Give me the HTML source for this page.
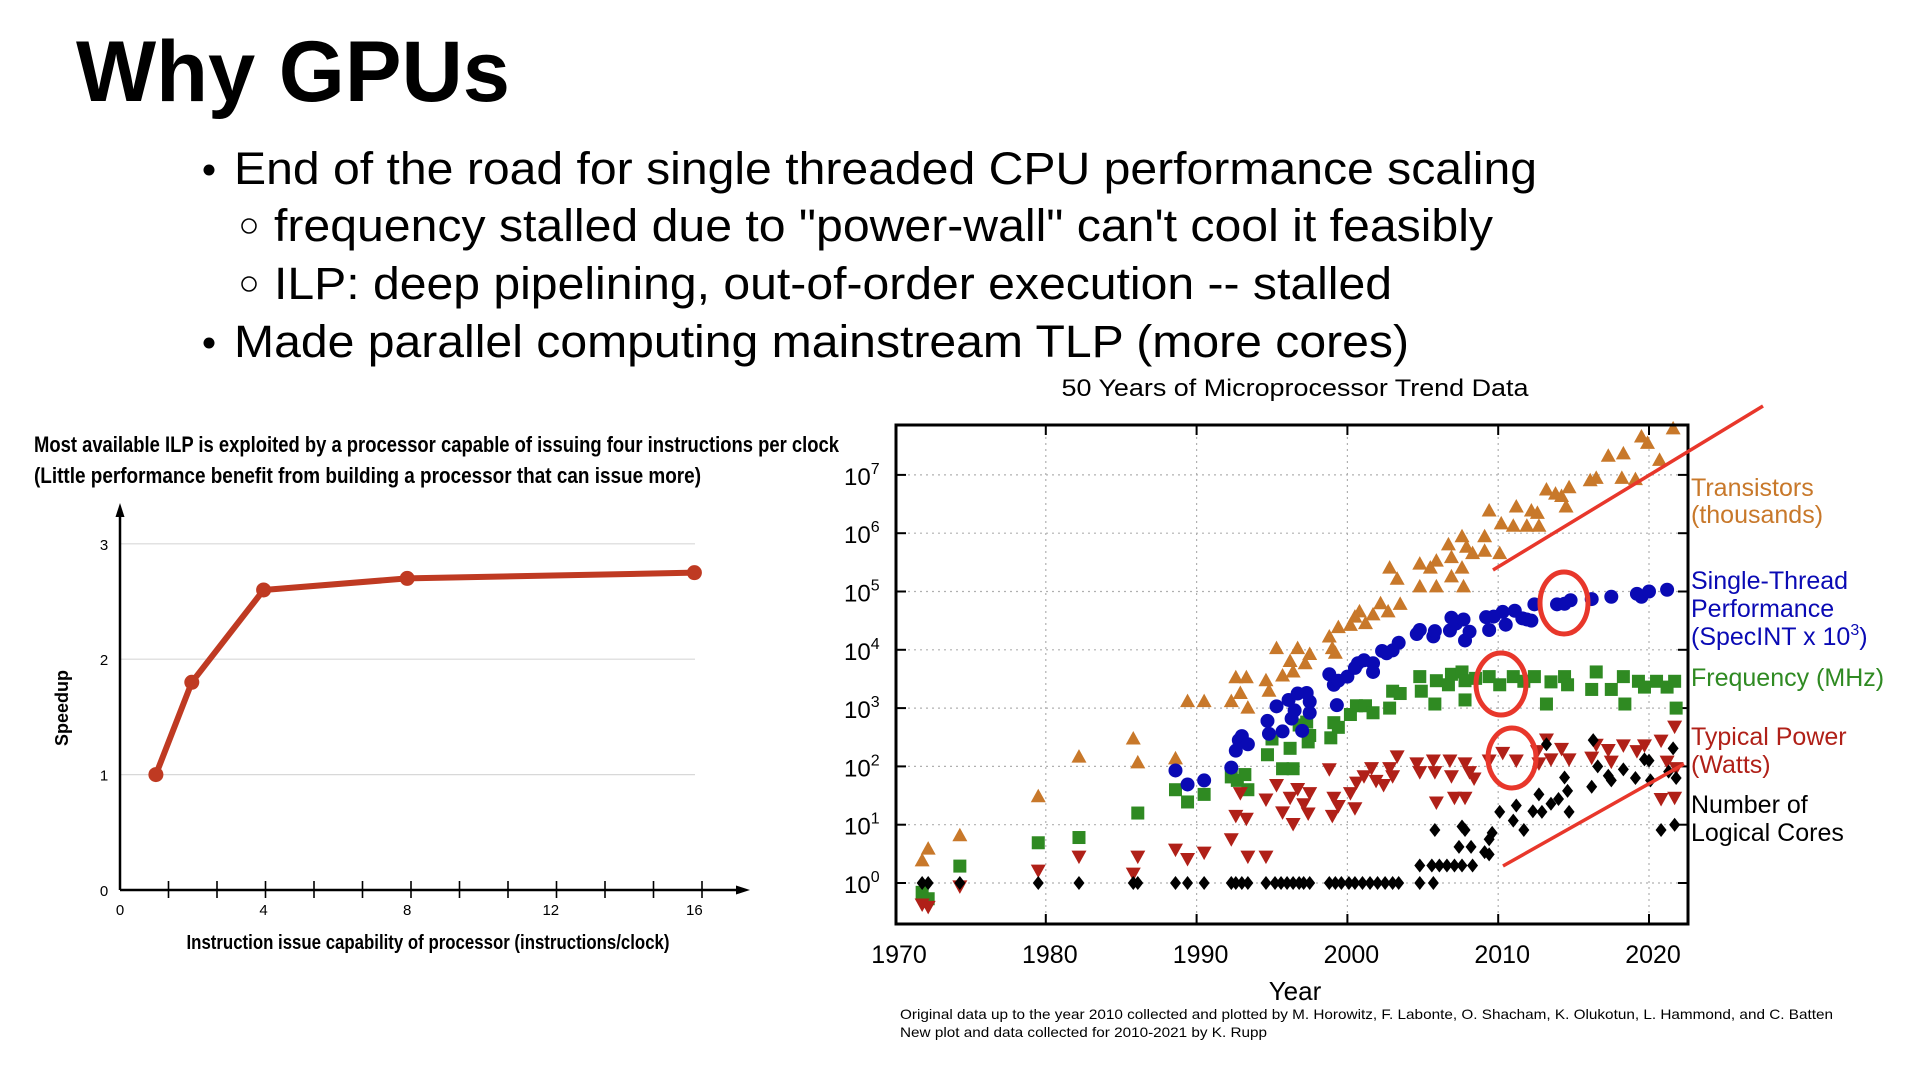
<!DOCTYPE html>
<html><head><meta charset="utf-8"><title>Why GPUs</title>
<style>
html,body{margin:0;padding:0;background:#fff;}
svg{display:block;font-family:"Liberation Sans",Arial,sans-serif;}
</style></head>
<body>
<svg id="page" width="1920" height="1081" viewBox="0 0 1920 1081">
  <text x="76" y="101" font-size="86" font-weight="bold" textLength="434" lengthAdjust="spacingAndGlyphs">Why GPUs</text>
  <g font-size="45">
    <circle cx="209" cy="170" r="5.5" fill="#000"/>
    <text x="234" y="184" textLength="1303" lengthAdjust="spacingAndGlyphs">End of the road for single threaded CPU performance scaling</text>
    <circle cx="249" cy="226" r="7" fill="none" stroke="#000" stroke-width="1.5"/>
    <text x="274" y="241" textLength="1219" lengthAdjust="spacingAndGlyphs">frequency stalled due to "power-wall" can't cool it feasibly</text>
    <circle cx="249" cy="284" r="7" fill="none" stroke="#000" stroke-width="1.5"/>
    <text x="274" y="299" textLength="1118" lengthAdjust="spacingAndGlyphs">ILP: deep pipelining, out-of-order execution -- stalled</text>
    <circle cx="209" cy="343" r="5.5" fill="#000"/>
    <text x="234" y="357" textLength="1175" lengthAdjust="spacingAndGlyphs">Made parallel computing mainstream TLP (more cores)</text>
  </g>

  <!-- LEFT CHART -->
  <g id="ilp">
    <text x="34" y="452" font-size="22" font-weight="bold" textLength="805" lengthAdjust="spacingAndGlyphs">Most available ILP is exploited by a processor capable of issuing four instructions per clock</text>
    <text x="34" y="483" font-size="22" font-weight="bold" textLength="667" lengthAdjust="spacingAndGlyphs">(Little performance benefit from building a processor that can issue more)</text>
    <g id="ilpGrid"></g>
    <line x1="120" y1="890" x2="120" y2="512" stroke="#000" stroke-width="2.5"/>
    <polygon points="120,503 115.5,517 124.5,517" fill="#000"/>
    <line x1="120" y1="890" x2="740" y2="890" stroke="#000" stroke-width="2.5"/>
    <polygon points="750,890 736,885.5 736,894.5" fill="#000"/>
    <text transform="translate(68,708) rotate(-90)" text-anchor="middle" font-size="18" font-weight="bold">Speedup</text>
    <text x="428" y="949" text-anchor="middle" font-size="20" font-weight="bold" textLength="483" lengthAdjust="spacingAndGlyphs">Instruction issue capability of processor (instructions/clock)</text>
    <g id="ilpMarks"></g>
  </g>

  <!-- RIGHT CHART -->
  <g id="trend">
    <text x="1295" y="396" text-anchor="middle" font-size="24" textLength="467" lengthAdjust="spacingAndGlyphs">50 Years of Microprocessor Trend Data</text>
    <g id="trGrid"></g>
    <g id="trMarks"></g>
    <rect x="896" y="425" width="792" height="499" fill="none" stroke="#000" stroke-width="3"/>
    <text x="1295" y="1000" text-anchor="middle" font-size="26">Year</text>
    <g font-size="25">
      <text x="1691" y="496" fill="#c8782a">Transistors</text>
      <text x="1691" y="523" fill="#c8782a">(thousands)</text>
      <text x="1691" y="589" fill="#0a0ab4">Single-Thread</text>
      <text x="1691" y="617" fill="#0a0ab4">Performance</text>
      <text x="1691" y="645" fill="#0a0ab4">(SpecINT x 10<tspan dy="-10" font-size="16">3</tspan><tspan dy="10">)</tspan></text>
      <text x="1691" y="686" fill="#2f8a22">Frequency (MHz)</text>
      <text x="1691" y="745" fill="#b02018">Typical Power</text>
      <text x="1691" y="773" fill="#b02018">(Watts)</text>
      <text x="1691" y="813" fill="#000">Number of</text>
      <text x="1691" y="841" fill="#000">Logical Cores</text>
    </g>
    <text x="900" y="1019" font-size="14" textLength="933" lengthAdjust="spacingAndGlyphs">Original data up to the year 2010 collected and plotted by M. Horowitz, F. Labonte, O. Shacham, K. Olukotun, L. Hammond, and C. Batten</text>
    <text x="900" y="1037" font-size="14" textLength="367" lengthAdjust="spacingAndGlyphs">New plot and data collected for 2010-2021 by K. Rupp</text>
    <g id="annot"></g>
  </g>
</svg>
<script>
var NS = "http://www.w3.org/2000/svg";
// ---- ILP chart data ----
var ilpIssue = [1, 2, 4, 8, 16];
var ilpSpeedup = [1, 1.8, 2.6, 2.7, 2.75];
var ilpXTicks = [0, 4, 8, 12, 16];
var ilpYTicks = [0, 1, 2, 3];

// ---- Trend chart data: [year, log10(value)] ----
var transYears = [1971.8,1972.2,1974.3,1979.5,1982.2,1985.8,1986.1,1988.6,1989.4,1990.5,1992.3,1992.6,1993.3,1992.9,1993.4,1994.6,1994.8,1995.3,1995.7,1996.2,1996.4,1996.7,1997.2,1997.5,1998.8,1999.0,1999.2,1999.4,2000.2,2000.5,2000.8,2001.2,2001.7,2002.2,2002.7,2002.8,2003.3,2003.5,2004.8,2004.8,2005.5,2005.9,2005.9,2006.7,2006.9,2006.9,2007.6,2007.6,2007.7,2007.9,2008.3,2009.1,2009.1,2009.4,2010.1,2010.2,2011.0,2011.2,2011.9,2012.2,2012.6,2012.7,2013.2,2013.8,2014.2,2014.5,2014.7,2016.1,2016.5,2017.3,2018.2,2018.3,2019.1,2019.5,2019.9,2020.7,2021.6];
var transLog = [0.38,0.58,0.81,1.48,2.16,2.47,2.06,2.13,3.11,3.11,3.11,3.52,3.52,3.25,3.0,3.47,3.29,4.02,3.55,3.8,3.62,4.02,3.76,3.92,4.22,4.02,3.94,4.38,4.42,4.56,4.65,4.45,4.6,4.79,4.65,5.4,5.21,4.78,5.47,5.08,5.4,5.08,5.52,5.8,5.25,5.58,5.94,5.4,5.08,5.76,5.65,5.94,5.69,6.38,5.65,6.16,6.12,6.45,6.12,6.38,6.34,6.12,6.74,6.67,6.63,6.45,6.78,6.9,6.94,7.32,6.94,7.36,6.92,7.65,7.54,7.25,7.79];
var stYears = [1988.6,1989.4,1990.5,1992.3,1992.6,1992.8,1993.0,1993.4,1994.7,1994.8,1995.3,1995.7,1996.1,1996.3,1996.5,1996.7,1997.0,1997.3,1997.5,1997.5,1998.8,1999.1,1999.3,1999.4,2000.0,2000.5,2000.7,2001.1,2001.7,2001.7,2002.3,2002.6,2003.0,2003.4,2004.6,2004.8,2005.7,2005.8,2006.8,2006.9,2007.2,2007.7,2007.8,2008.1,2009.2,2009.4,2009.7,2010.3,2010.5,2011.1,2011.6,2011.9,2012.2,2012.4,2013.9,2014.4,2014.8,2016.2,2017.5,2019.2,2019.5,2020.0,2021.2];
var stLog = [1.93,1.69,1.76,1.98,2.27,2.45,2.52,2.38,2.78,2.56,3.03,2.6,3.14,2.82,2.96,3.25,2.61,3.26,2.92,3.11,3.58,3.4,3.05,3.47,3.54,3.69,3.77,3.82,3.77,3.62,3.98,3.94,3.99,4.12,4.27,4.34,4.23,4.32,4.33,4.55,4.45,4.52,4.16,4.31,4.56,4.34,4.57,4.65,4.43,4.67,4.54,4.52,4.5,4.78,4.78,4.79,4.85,4.87,4.91,4.96,4.91,5.0,5.03];
var freqYears = [1971.8,1972.2,1974.3,1979.5,1982.2,1986.1,1988.6,1989.4,1990.5,1992.3,1992.7,1993.2,1993.4,1994.7,1995.0,1995.7,1996.2,1996.4,1996.8,1997.3,1997.4,1997.5,1998.9,1999.1,1999.4,2000.2,2000.6,2001.2,2001.7,2002.8,2003.0,2003.5,2004.8,2004.9,2005.8,2005.9,2006.7,2006.9,2007.6,2007.8,2007.8,2008.5,2009.4,2010.1,2011.0,2011.7,2012.4,2013.2,2013.5,2014.4,2014.6,2016.2,2016.5,2017.5,2018.3,2018.4,2019.3,2019.7,2020.5,2021.2,2021.7,2021.8];
var freqLog = [-0.16,-0.27,0.29,0.69,0.78,1.2,1.6,1.39,1.52,1.82,1.76,1.86,1.6,2.2,2.47,1.96,2.31,1.96,2.71,2.76,2.42,2.53,2.49,2.75,2.67,2.89,3.04,3.04,2.92,3.0,3.29,3.25,3.54,3.29,3.07,3.47,3.4,3.58,3.62,3.14,3.47,3.51,3.54,3.4,3.54,3.46,3.54,3.07,3.45,3.54,3.4,3.32,3.62,3.32,3.54,3.07,3.46,3.36,3.46,3.36,3.46,3.0];
var powYears = [1971.8,1972.2,1974.3,1979.5,1982.2,1985.8,1986.1,1988.6,1989.4,1990.5,1992.3,1992.6,1992.9,1993.3,1993.4,1994.6,1994.6,1995.3,1995.7,1996.2,1996.4,1996.7,1997.1,1997.4,1997.5,1998.8,1999.0,1999.1,1999.4,2000.2,2000.5,2000.6,2001.1,2001.6,2001.9,2002.4,2002.8,2003.0,2003.3,2004.6,2004.8,2005.7,2005.9,2005.8,2006.8,2006.9,2007.1,2007.8,2007.8,2008.1,2008.4,2009.4,2010.3,2011.2,2012.6,2013.2,2012.7,2013.5,2014.2,2014.7,2016.2,2016.5,2017.3,2017.5,2018.3,2019.2,2019.7,2020.8,2021.2,2020.8,2021.7,2021.7,2021.8];
var powLog = [-0.36,-0.4,-0.05,0.22,0.46,0.17,0.46,0.58,0.42,0.53,0.76,1.16,1.55,1.11,0.46,0.46,1.44,1.69,1.22,1.47,1.02,1.62,1.36,1.2,1.55,1.96,1.16,1.47,1.33,1.55,1.29,1.73,1.84,1.98,1.76,1.69,1.98,1.84,2.18,2.06,1.91,2.11,1.39,1.91,2.11,1.84,1.47,2.06,1.47,1.91,1.8,2.11,2.24,2.11,2.27,2.47,2.06,2.13,2.31,2.13,2.16,2.38,2.29,2.09,2.37,2.27,2.37,2.45,2.09,1.45,2.69,1.47,1.98];
var coreYears = [1971.8,1972.2,1974.3,1979.5,1982.2,1985.8,1986.1,1988.6,1989.4,1990.5,1992.3,1992.6,1993.0,1993.4,1994.6,1995.2,1995.6,1996.0,1996.4,1996.8,1997.1,1997.5,1998.8,1999.2,1999.6,2000.1,2000.5,2001.0,2001.5,2002.0,2002.5,2003.0,2003.4,2004.8,2005.7,2004.8,2005.6,2006.1,2006.6,2007.1,2007.6,2008.3,2005.8,2007.6,2007.8,2007.4,2008.2,2009.1,2009.4,2009.4,2009.6,2010.1,2011.0,2011.2,2011.7,2012.3,2012.7,2012.9,2013.2,2013.5,2014.0,2014.4,2014.6,2014.7,2016.2,2016.3,2016.6,2017.3,2017.5,2018.3,2019.1,2019.7,2020.0,2020.1,2020.8,2021.3,2021.6,2021.7,2021.8];
var coreLog = [0,0,0,0,0,0,0,0,0,0,0,0,0,0,0,0,0,0,0,0,0,0,0,0,0,0,0,0,0,0,0,0,0,0,0,0.3,0.3,0.3,0.3,0.3,0.3,0.3,0.91,0.97,0.91,0.62,0.62,0.53,0.49,0.75,0.86,1.22,1.07,1.33,0.91,1.23,1.52,1.22,2.38,1.36,1.44,1.81,1.58,1.22,1.65,2.45,2.0,1.84,1.76,1.95,1.8,2.12,2.1,1.76,0.91,1.91,2.31,1.0,1.8];
var yearTicks = [1970, 1980, 1990, 2000, 2010, 2020];
var decadeTicks = [0, 1, 2, 3, 4, 5, 6, 7];

function mk(tag, attrs, parent) {
  var e = document.createElementNS(NS, tag);
  for (var k in attrs) e.setAttribute(k, attrs[k]);
  parent.appendChild(e);
  return e;
}

// ---- ILP chart ----
function ix(v) { return 120 + v * 35.9; }
function iy(v) { return 890 - v * 115.4; }
var ig = document.getElementById('ilpGrid');
ilpYTicks.forEach(function (t) {
  if (t > 0) {
    var gl = mk('line', {x1: 120, x2: 695, y1: iy(t), y2: iy(t), stroke: '#d8d8d8', 'stroke-width': 1.2}, ig);
    
    
  }
  var tl = mk('text', {x: 104, y: iy(t) + 6, 'text-anchor': 'middle', 'font-size': 15}, ig);
  tl.textContent = t;
  
  
});
ilpXTicks.forEach(function (t) {
  var tl = mk('text', {x: ix(t), y: 915, 'text-anchor': 'middle', 'font-size': 15}, ig);
  tl.textContent = t;
  
  
});
for (var i = 1; i <= 12; i++) {
  var tk = mk('line', {x1: 120 + i * 48.5, x2: 120 + i * 48.5, y1: 881, y2: 898, stroke: '#000', 'stroke-width': 1.6}, ig);
  
  
}
var im = document.getElementById('ilpMarks');
var pts = ilpIssue.map(function (v, i) { return ix(v) + ',' + iy(ilpSpeedup[i]); }).join(' ');
var pl = mk('polyline', {points: pts, fill: 'none', stroke: '#bf3a22', 'stroke-width': 6, 'stroke-linejoin': 'round'}, im);


ilpIssue.forEach(function (v, i) {
  var c = mk('circle', {cx: ix(v), cy: iy(ilpSpeedup[i]), r: 7.5, fill: '#bf3a22'}, im);
  
  
});

// ---- Trend chart ----
function tx(y) { return 895 + (y - 1970) * 15.08; }
function ty(l) { return 883 - l * 58.3; }
var tg = document.getElementById('trGrid');
yearTicks.forEach(function (y) {
  if (y > 1970) {
    var gl = mk('line', {x1: tx(y), x2: tx(y), y1: 425, y2: 924, stroke: '#b0b0b0', 'stroke-width': 1.2, 'stroke-dasharray': '2,4'}, tg);
    
    
    var t1 = mk('line', {x1: tx(y), x2: tx(y), y1: 924, y2: 914, stroke: '#000', 'stroke-width': 2}, tg);
    
    
    var t2 = mk('line', {x1: tx(y), x2: tx(y), y1: 425, y2: 435, stroke: '#000', 'stroke-width': 2}, tg);
    
    
  }
  var tl = mk('text', {x: tx(y) + 4, y: 963, 'text-anchor': 'middle', 'font-size': 25}, tg);
  tl.textContent = y;
  
  
});
decadeTicks.forEach(function (d) {
  var gl = mk('line', {x1: 896, x2: 1688, y1: ty(d), y2: ty(d), stroke: '#b0b0b0', 'stroke-width': 1.2, 'stroke-dasharray': '2,4'}, tg);
  
  
  var t1 = mk('line', {x1: 896, x2: 906, y1: ty(d), y2: ty(d), stroke: '#000', 'stroke-width': 2}, tg);
  
  
  var t2 = mk('line', {x1: 1678, x2: 1688, y1: ty(d), y2: ty(d), stroke: '#000', 'stroke-width': 2}, tg);
  
  
  var tl = mk('text', {x: 844, y: ty(d) + 10, 'font-size': 24}, tg);
  tl.textContent = '10';
  var sp = mk('tspan', {dy: -11, 'font-size': 16}, tl);
  sp.textContent = d;
  
  
});

var tm = document.getElementById('trMarks');
function series(years, logs, color, shape, name) {
  var g = mk('g', {fill: color}, tm);
  
  
  years.forEach(function (y, i) {
    var x = tx(y), yy = ty(logs[i]), e;
    if (shape === 'tri') e = mk('polygon', {points: (x) + ',' + (yy - 8) + ' ' + (x - 7.5) + ',' + (yy + 5.5) + ' ' + (x + 7.5) + ',' + (yy + 5.5)}, g);
    else if (shape === 'dtri') e = mk('polygon', {points: (x) + ',' + (yy + 8) + ' ' + (x - 7.5) + ',' + (yy - 5.5) + ' ' + (x + 7.5) + ',' + (yy - 5.5)}, g);
    else if (shape === 'circ') e = mk('circle', {cx: x, cy: yy, r: 7}, g);
    else if (shape === 'sq') e = mk('rect', {x: x - 6.5, y: yy - 6.5, width: 13, height: 13}, g);
    else e = mk('polygon', {points: x + ',' + (yy - 7) + ' ' + (x + 5.5) + ',' + yy + ' ' + x + ',' + (yy + 7) + ' ' + (x - 5.5) + ',' + yy}, g);
    
    
  });
}
series(transYears, transLog, '#c8782a', 'tri', 'transistors');
series(freqYears, freqLog, '#2f8a22', 'sq', 'frequency');
series(stYears, stLog, '#0a0ab4', 'circ', 'single-thread');
series(powYears, powLog, '#b02018', 'dtri', 'power');
series(coreYears, coreLog, '#000000', 'dia', 'cores');

// annotations (red trend lines and circles)
var an = document.getElementById('annot');
var l1 = mk('line', {x1: 1493, y1: 570, x2: 1763, y2: 406, stroke: '#e8372b', 'stroke-width': 3.5}, an);


var l2 = mk('line', {x1: 1503, y1: 866, x2: 1684, y2: 764, stroke: '#e8372b', 'stroke-width': 3.5}, an);


var e1 = mk('ellipse', {cx: 1564, cy: 603, rx: 24, ry: 31, fill: 'none', stroke: '#e8372b', 'stroke-width': 5}, an);


var e2 = mk('ellipse', {cx: 1501, cy: 684, rx: 25, ry: 31, fill: 'none', stroke: '#e8372b', 'stroke-width': 5}, an);


var e3 = mk('ellipse', {cx: 1512, cy: 758, rx: 24, ry: 30, fill: 'none', stroke: '#e8372b', 'stroke-width': 5}, an);


</script>
</body></html>
